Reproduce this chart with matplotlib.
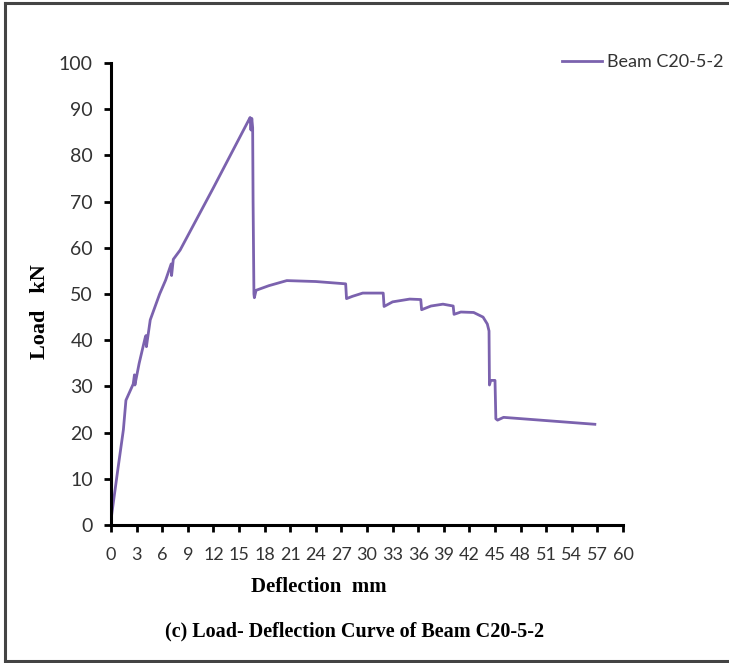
import matplotlib
matplotlib.use("Agg")
import matplotlib.pyplot as plt
from matplotlib.lines import Line2D

# load-deflection readings (mm, kN)
deflection = [0, 0.1, 0.8, 1.45, 1.75, 2.6, 2.75, 2.8, 3.3, 4.0, 4.1, 4.15,
              4.6, 5.7, 6.4, 7.05, 7.1, 7.3, 8.1, 12.0, 16.1, 16.3, 16.4,
              16.5, 16.6, 16.65, 16.75, 16.8, 17.0, 18.5, 20.6, 24.0, 27.5,
              27.6, 28.3, 29.5, 31.9, 32.0, 33.0, 35.0, 36.3, 36.4, 37.5,
              38.9, 40.1, 40.2, 41.0, 42.5, 43.6, 44.1, 44.3, 44.35, 44.5,
              45.0, 45.1, 45.3, 46.0, 56.7]
load = [1.0, 2.5, 12.0, 20.6, 27.0, 30.5, 32.5, 30.3, 35.0, 40.5, 41.0, 38.6,
        44.4, 50.0, 53.0, 56.5, 54.0, 57.5, 59.5, 73.0, 87.5, 88.2, 85.5,
        88.0, 86.0, 70.0, 50.0, 49.2, 50.8, 51.8, 52.9, 52.7, 52.2,
        49.0, 49.5, 50.2, 50.2, 47.3, 48.3, 48.9, 48.8, 46.6, 47.4,
        47.8, 47.4, 45.6, 46.1, 46.0, 45.0, 43.5, 42.0, 30.3, 31.3,
        31.3, 23.0, 22.7, 23.3, 21.8]

x_ticks = list(range(0, 61, 3))
y_ticks = list(range(0, 101, 10))

tick_font = "Lato"
serif_bold = dict(family="Liberation Serif", fontweight="bold")

fig = plt.figure(figsize=(7.29, 6.63), dpi=100)
ax = fig.add_axes([111 / 729, 1 - 525 / 663, 512 / 729, 462 / 663])

ax.plot(deflection, load, color="#7b62ae", lw=2.0, label="Beam C20-5-2")

ax.set_xlim(0, 60)
ax.set_ylim(0, 100)
ax.set_xticks(x_ticks)
ax.set_yticks(y_ticks)
ax.set_xticklabels([str(v) for v in x_ticks], family=tick_font, fontsize=13, color="#333333")
ax.set_yticklabels([str(v) for v in y_ticks], family=tick_font, fontsize=14, color="#333333")
ax.tick_params(direction="out", length=5, width=2)
ax.tick_params(axis="x", pad=11)
ax.tick_params(axis="y", pad=8)

for side in ["top", "right"]:
    ax.spines[side].set_visible(False)
for side in ["left", "bottom"]:
    ax.spines[side].set_linewidth(2.2)

# axis labels and caption
fig.text(40 / 729, 1 - 312 / 663, "Load   kN", rotation=90, ha="center", va="center",
         fontsize=16, **serif_bold)
fig.text(319 / 729, 1 - 587 / 663, "Deflection  mm", ha="center", va="center",
         fontsize=15, **serif_bold)
fig.text(355 / 729, 1 - 631 / 663, "(c) Load- Deflection Curve of Beam C20-5-2",
         ha="center", va="center", fontsize=14.5, **serif_bold)

leg = ax.legend(loc="upper left", bbox_to_anchor=(546 / 729, 1 - 38 / 663),
                bbox_transform=fig.transFigure, frameon=False, handlelength=2.2,
                handletextpad=0.3, prop={"family": tick_font, "size": 13})
for t in leg.get_texts():
    t.set_color("#333333")

# frame around the figure
frame = dict(color="#444444", lw=2.2, transform=fig.transFigure)
fig.add_artist(Line2D([5 / 729, 5 / 729], [1 - 3 / 663, 1 - 661 / 663], **frame))
fig.add_artist(Line2D([5 / 729, 1], [1 - 3 / 663, 1 - 3 / 663], **frame))
fig.add_artist(Line2D([5 / 729, 1], [1 - 661 / 663, 1 - 661 / 663], **frame))

fig.savefig("out.png", dpi=100)
